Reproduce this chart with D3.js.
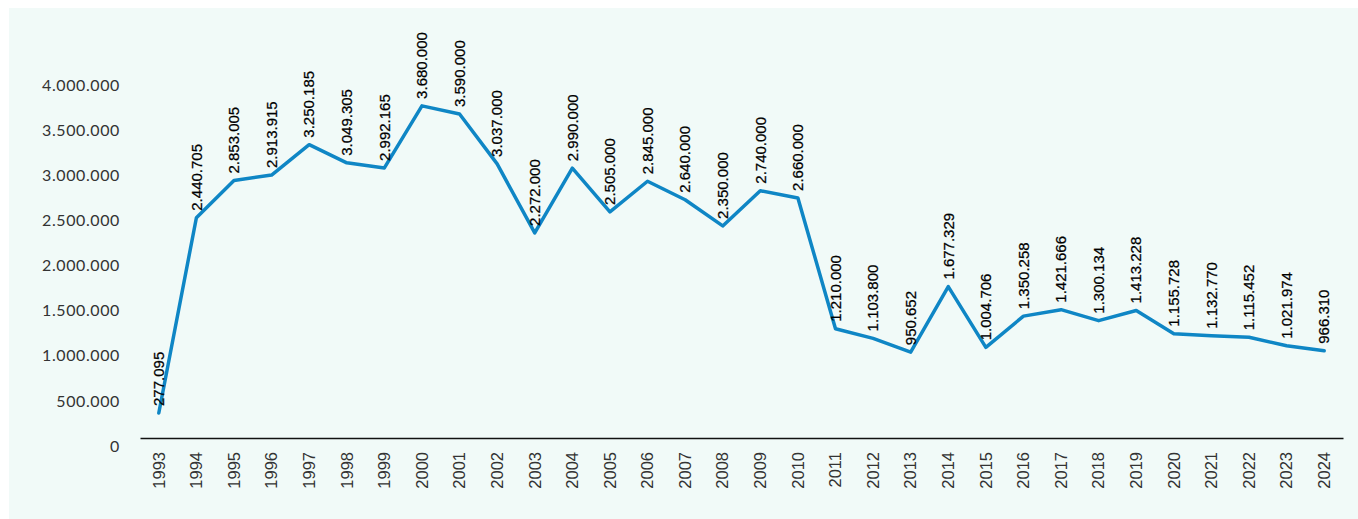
<!DOCTYPE html>
<html>
<head>
<meta charset="utf-8">
<script src="https://cdn.jsdelivr.net/npm/d3@7"></script>
<style>
  html, body { margin: 0; padding: 0; background: #ffffff; }
  svg { display: block; }
</style>
</head>
<body>
<svg id="chart" width="1358" height="519"></svg>
<script>
// Yearly totals, 1993–2024
const years = [1993, 1994, 1995, 1996, 1997, 1998, 1999, 2000, 2001, 2002, 2003,
  2004, 2005, 2006, 2007, 2008, 2009, 2010, 2011, 2012, 2013, 2014, 2015, 2016,
  2017, 2018, 2019, 2020, 2021, 2022, 2023, 2024];
const values = [277095, 2440705, 2853005, 2913915, 3250185, 3049305, 2992165,
  3680000, 3590000, 3037000, 2272000, 2990000, 2505000, 2845000, 2640000,
  2350000, 2740000, 2660000, 1210000, 1103800, 950652, 1677329, 1004706,
  1350258, 1421666, 1300134, 1413228, 1155728, 1132770, 1115452, 1021974, 966310];
const yTicks = [0, 500000, 1000000, 1500000, 2000000, 2500000, 3000000, 3500000, 4000000];

const data = years.map((y, i) => ({ year: y, value: values[i] }));

const locale = d3.formatLocale({ decimal: ",", thousands: ".", grouping: [3], currency: ["", ""] });
const fmt = locale.format(",d");

const svg = d3.select("#chart");

// panel background
svg.append("rect")
  .attr("x", 9).attr("y", 8)
  .attr("width", 1358 - 9).attr("height", 519 - 8)
  .attr("fill", "#f1faf8");

const x = d3.scaleBand()
  .domain(years)
  .range([140, 1343]);

const y = d3.scaleLinear()
  .domain([0, 4000000])
  .range([438, 77]);

// y axis labels (no line, no ticks)
const yAxis = d3.axisLeft(y).tickValues(yTicks).tickFormat(fmt).tickSize(0).tickPadding(0);
const gy = svg.append("g").attr("transform", "translate(120,0)").call(yAxis);
gy.select(".domain").remove();
gy.selectAll("text")
  .attr("dy", "0.32em")
  .attr("y", 8)
  .attr("font-family", "Lato, 'Noto Sans', sans-serif")
  .attr("font-size", 16)
  .attr("letter-spacing", "0.6px")
  .attr("fill", "#333333");

// x axis
const xAxis = d3.axisBottom(x).tickSize(0).tickPadding(0);
const gx = svg.append("g").attr("transform", "translate(0,438)").call(xAxis);
gx.select(".domain")
  .attr("stroke", "#111111")
  .attr("stroke-width", 1.5);
gx.selectAll("text")
  .attr("transform", "rotate(-90)")
  .attr("text-anchor", "end")
  .attr("x", -14)
  .attr("y", 0)
  .attr("dy", "0.35em")
  .attr("font-family", "'Liberation Sans', Arial, sans-serif")
  .attr("font-size", 16.5)
  .attr("fill", "#333333");

const cx = d => x(d.year) + x.bandwidth() / 2;

// series line
const line = d3.line()
  .x(cx)
  .y(d => y(d.value));

svg.append("path")
  .datum(data)
  .attr("fill", "none")
  .attr("stroke", "#0f86c5")
  .attr("stroke-width", 3.5)
  .attr("stroke-linejoin", "round")
  .attr("stroke-linecap", "round")
  .attr("d", line);

// value labels above each point
svg.append("g")
  .selectAll("text")
  .data(data)
  .join("text")
  .attr("transform", d => `translate(${cx(d)},${y(d.value) - 7}) rotate(-90)`)
  .attr("text-anchor", "start")
  .attr("dy", "0.35em")
  .attr("font-family", "'Liberation Sans', Arial, sans-serif")
  .attr("font-size", 15)
  .attr("stroke", "#000000")
  .attr("stroke-width", 0.25)
  .attr("fill", "#000000")
  .text(d => fmt(d.value));
</script>
</body>
</html>
